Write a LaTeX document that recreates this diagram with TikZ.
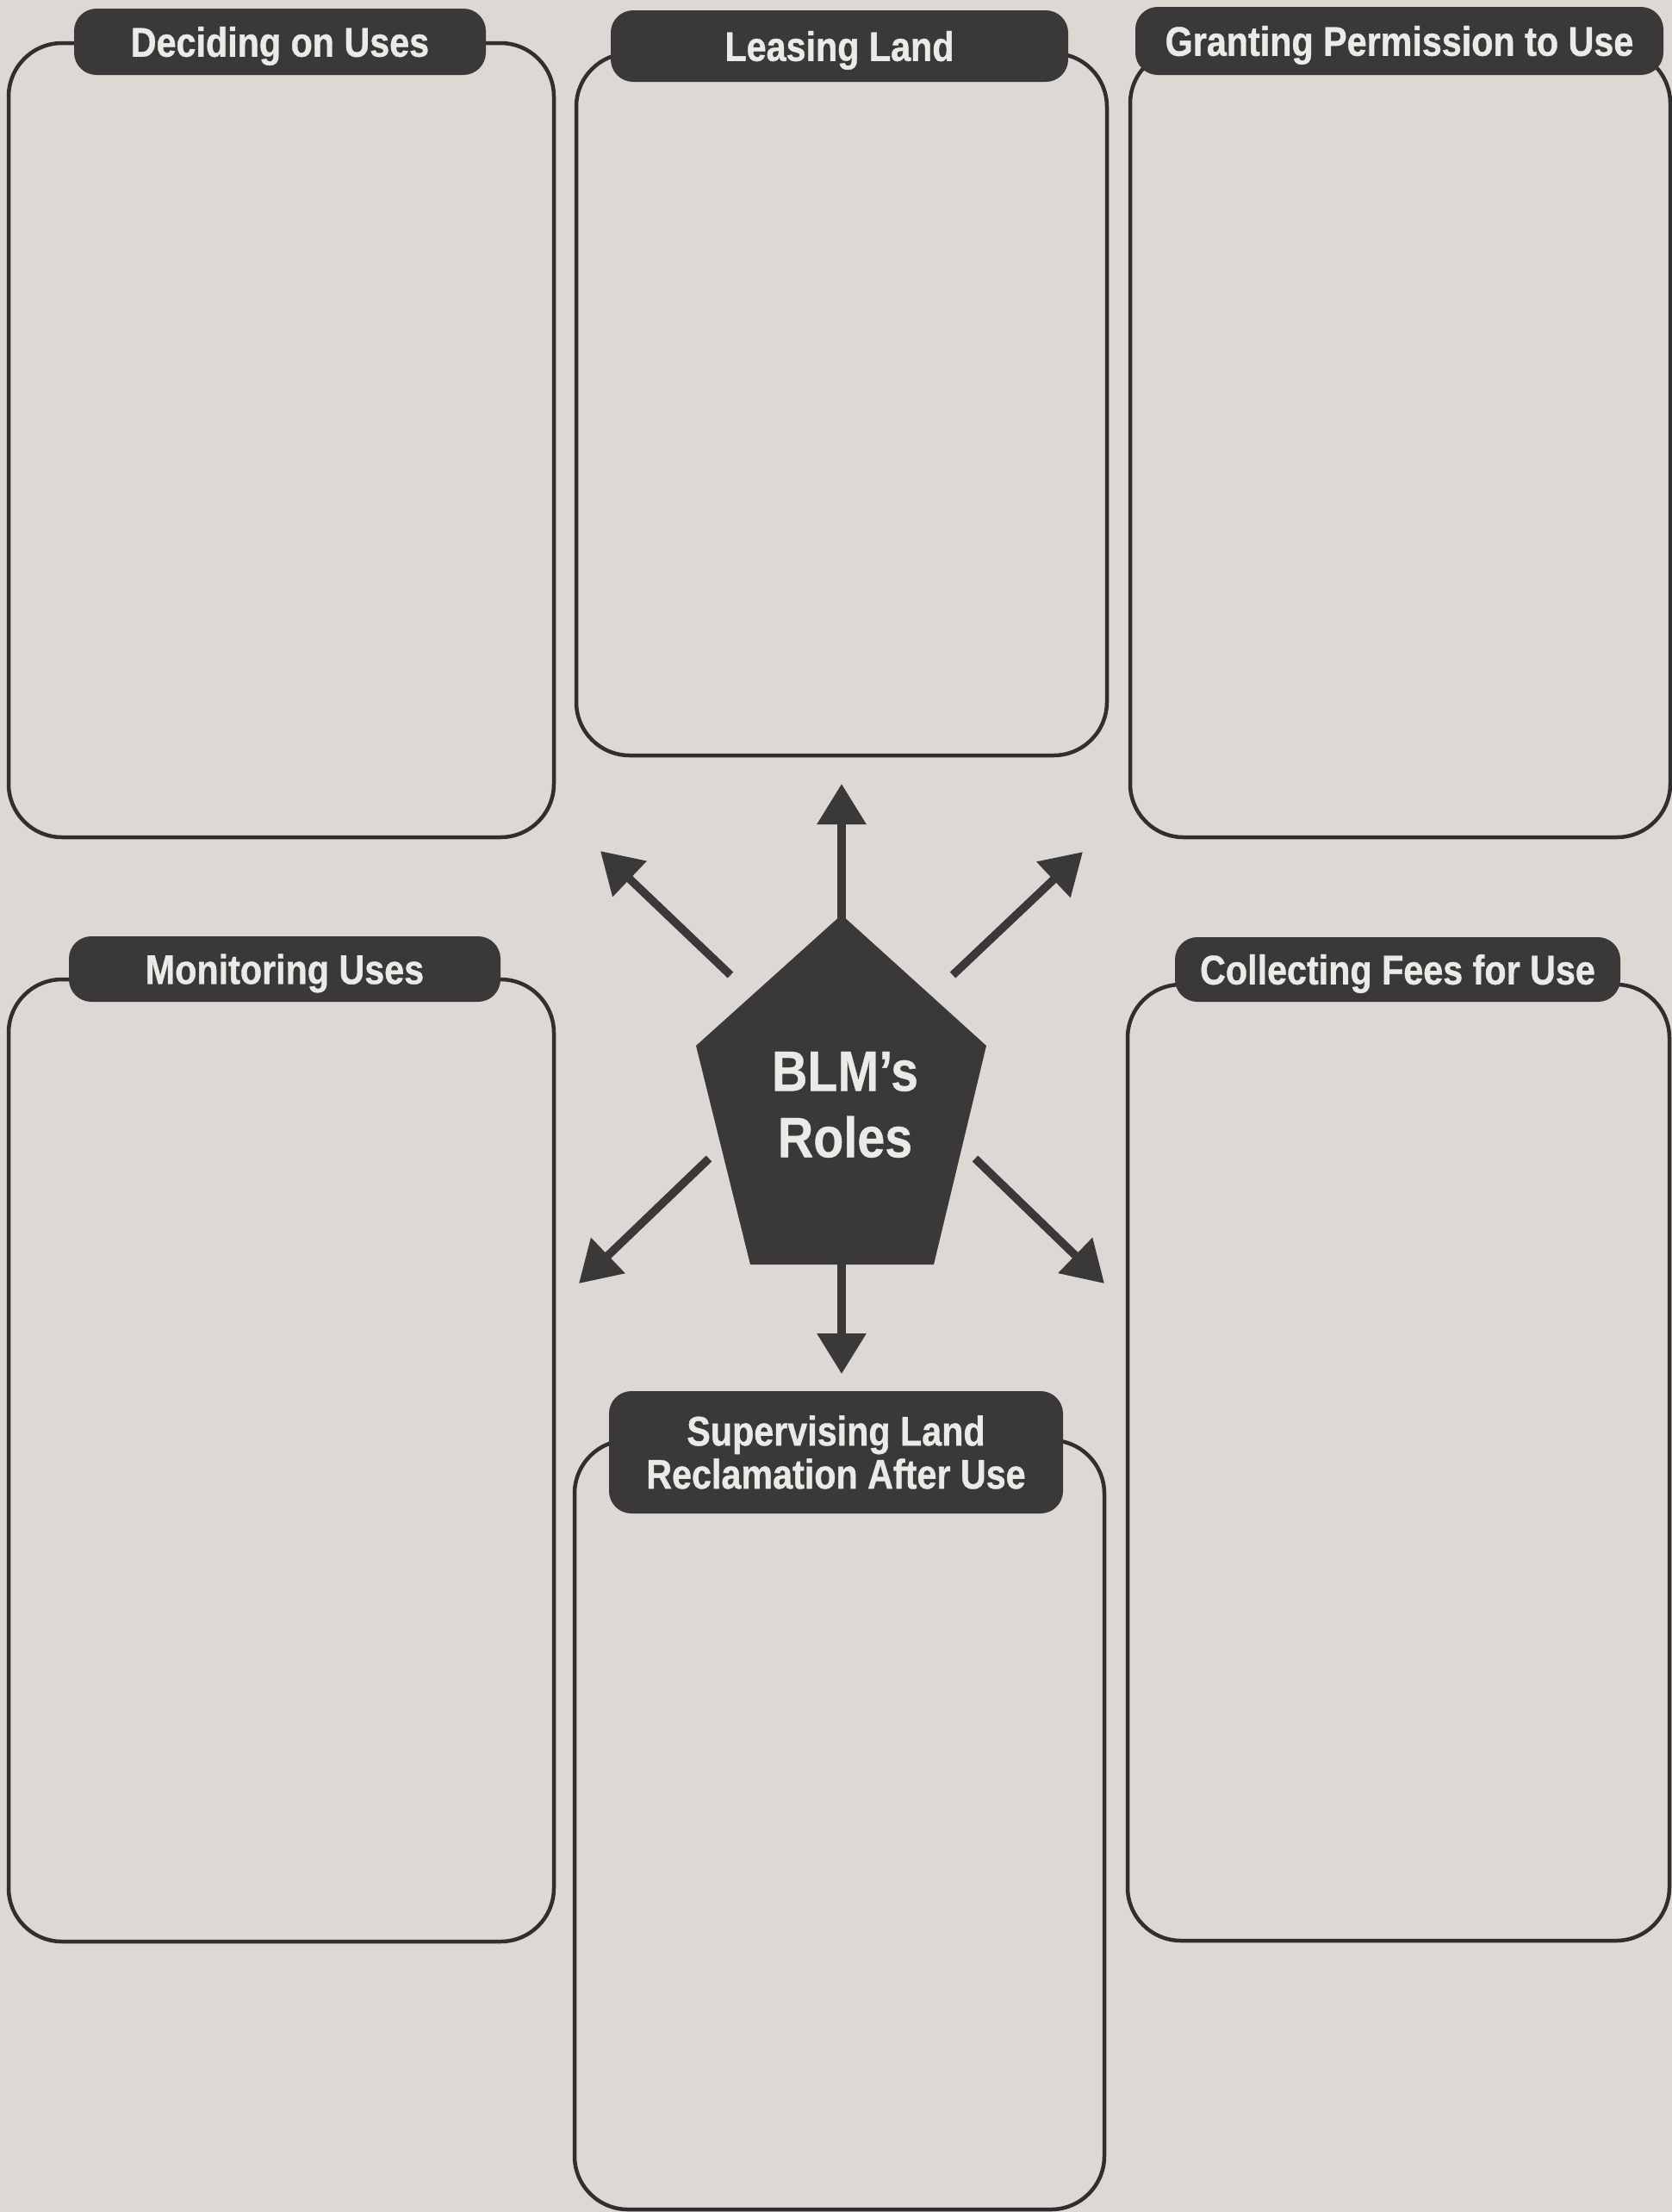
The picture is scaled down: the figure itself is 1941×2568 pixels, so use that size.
\documentclass[tikz,border=0pt]{standalone}
\usepackage{fontspec}
\newfontfamily\pillfont[FakeStretch=0.86,FakeBold=0.8]{Liberation Sans}
\newfontfamily\blmfont[FakeStretch=0.87,FakeBold=0.5]{Liberation Sans}
\usetikzlibrary{arrows.meta}
\definecolor{paper}{HTML}{DCD9D5}
\definecolor{ink}{HTML}{3A3838}
\definecolor{edge}{HTML}{302E2E}
\definecolor{lbl}{HTML}{ECEAE6}
\begin{document}
\begin{tikzpicture}[x=1pt,y=-1pt,
  frame/.style={rectangle,draw=edge,line width=4.5pt,rounded corners=62pt,inner sep=0pt},
  pill/.style={rectangle,fill=ink,rounded corners=26pt,inner sep=0pt,text=lbl,align=center,
    font=\pillfont\bfseries\fontsize{48}{50}\selectfont},
  oneline/.style={text height=34.5pt,text depth=0pt},
  arr/.style={draw=ink,line width=9.5pt,-{Triangle[width=55pt,length=47pt]}}]
\useasboundingbox (0,0) rectangle (1941,2568);
\fill[paper] (0,0) rectangle (1941,2568);

% answer boxes
\node[frame,minimum width=633pt,minimum height=922pt]  (b1) at (326.5,511) {};
\node[frame,minimum width=616pt,minimum height=815pt]  (b2) at (977,469.5) {};
\node[frame,minimum width=627pt,minimum height=914pt]  (b3) at (1625.5,515) {};
\node[frame,minimum width=633pt,minimum height=1117pt] (b4) at (326.5,1695.5) {};
\node[frame,minimum width=629pt,minimum height=1110pt] (b5) at (1623.5,1698) {};
\node[frame,minimum width=615pt,minimum height=893pt]  (b6) at (974.5,2118.5) {};

% title pills
\node[pill,oneline,minimum width=478pt,minimum height=77pt] (t1) at (325,48.5) {Deciding on Uses};
\node[pill,oneline,minimum width=531pt,minimum height=83pt] (t2) at (974.5,53.5) {Leasing Land};
\node[pill,oneline,minimum width=613pt,minimum height=79pt] (t3) at (1624.5,47.5) {Granting Permission to Use};
\node[pill,oneline,minimum width=501pt,minimum height=76pt] (t4) at (330.5,1125) {Monitoring Uses};
\node[pill,oneline,minimum width=517pt,minimum height=75pt] (t5) at (1622.5,1125.5) {Collecting Fees for Use};
\node[pill,minimum width=527pt,minimum height=142pt] (t6) at (970.5,1686) {Supervising Land\\Reclamation After Use};

% central pentagon
\coordinate (pA) at (977,1062);
\coordinate (pB) at (1145,1214);
\coordinate (pC) at (1084,1468);
\coordinate (pD) at (871,1468);
\coordinate (pE) at (808,1214);
\fill[ink] (pA) -- (pB) -- (pC) -- (pD) -- (pE) -- cycle;
\node[text=lbl,align=center,inner sep=0pt,font=\blmfont\bfseries\fontsize{66}{77}\selectfont] (blm) at (981,1282.5) {BLM’s\\Roles};

% arrows
\coordinate (sU) at (977,1072);   \coordinate (eU) at (977,910);
\coordinate (sUL) at (848,1132);  \coordinate (eUL) at (697,988);
\coordinate (sUR) at (1106,1132); \coordinate (eUR) at (1257,989);
\coordinate (sLL) at (823,1345);  \coordinate (eLL) at (672,1490);
\coordinate (sLR) at (1132,1345); \coordinate (eLR) at (1282,1490);
\coordinate (sD) at (977,1460);   \coordinate (eD) at (977,1595);
\draw[arr] (sU) -- (eU);
\draw[arr] (sUL) -- (eUL);
\draw[arr] (sUR) -- (eUR);
\draw[arr] (sLL) -- (eLL);
\draw[arr] (sLR) -- (eLR);
\draw[arr] (sD) -- (eD);
\end{tikzpicture}
\end{document}
